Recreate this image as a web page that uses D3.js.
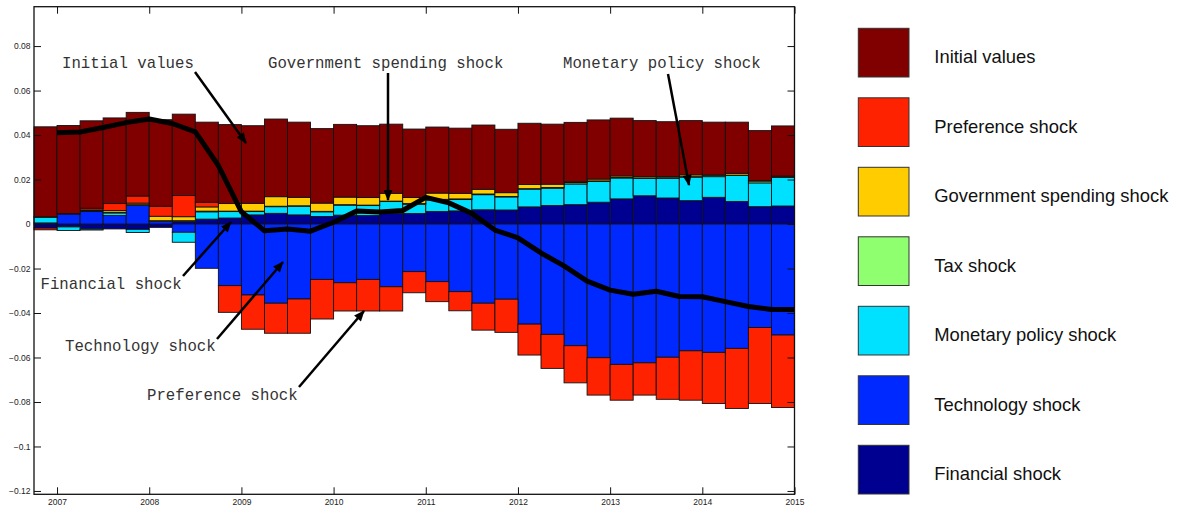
<!DOCTYPE html>
<html>
<head>
<meta charset="utf-8">
<script src="https://cdn.jsdelivr.net/npm/d3@7"></script>
<style>
  body { margin: 0; background: #fff; }
  svg { display: block; }
  .tick text { font-family: "Liberation Sans", Arial, sans-serif; font-size: 8.5px; fill: #222; }
  .note { font-family: "Courier New", "Liberation Mono", monospace; font-size: 15.7px; fill: #333; }
  .leg { font-family: "Liberation Sans", Arial, sans-serif; font-size: 18.4px; fill: #111; }
</style>
</head>
<body>
<div id="chart-area"></div>
<script>
// quarterly bars, left edge of each bar
const dates = [2006.75, 2007, 2007.25, 2007.5, 2007.75, 2008, 2008.25, 2008.5, 2008.75,
  2009, 2009.25, 2009.5, 2009.75, 2010, 2010.25, 2010.5, 2010.75,
  2011, 2011.25, 2011.5, 2011.75, 2012, 2012.25, 2012.5, 2012.75,
  2013, 2013.25, 2013.5, 2013.75, 2014, 2014.25, 2014.5, 2014.75]

const initialValues = [0.0404, 0.0396, 0.0393, 0.0385, 0.0376, 0.0389, 0.0366, 0.0360, 0.0355,
  0.0349, 0.0349, 0.0338, 0.0335, 0.0327, 0.0323, 0.0311, 0.0308,
  0.0297, 0.0293, 0.0289, 0.0285, 0.0275, 0.0270, 0.0267, 0.0266,
  0.0260, 0.0252, 0.0247, 0.0244, 0.0237, 0.0230, 0.0225, 0.0225]
const preference = [-0.0008, 0.0002, 0.0008, 0.0031, 0.0032, 0.0045, 0.0095, 0.0021, -0.0120,
  -0.0154, -0.0135, -0.0154, -0.0178, -0.0127, -0.0142, -0.0109, -0.0095,
  -0.0090, -0.0086, -0.0121, -0.0149, -0.0139, -0.0153, -0.0167, -0.0168,
  -0.0161, -0.0145, -0.0189, -0.0222, -0.0230, -0.0270, -0.0342, -0.0326]
const govSpending = [0.0003, 0, 0.0004, 0.0008, 0.0007, 0.0020, 0.0018, 0.0019, 0.0034,
  0.0035, 0.0043, 0.0038, 0.0037, 0.0034, 0.0034, 0.0035, 0.0027,
  0.0028, 0.0025, 0.0021, 0.0017, 0.0019, 0.0015, 0.0004, 0.0008,
  0.0007, 0.0006, 0.0002, 0.0008, 0.0002, 0.0008, 0.0002, 0.0002]
const tax = [0, 0, 0.0003, 0.0003, 0.0003, 0.0003, 0.0003, 0.0003, 0.0002,
  0.0002, 0.0002, 0.0002, 0.0002, 0.0002, 0.0002, 0.0002, 0.0003,
  0.0003, 0.0003, 0.0003, 0.0002, 0.0002, 0.0003, 0.0006, 0.0003,
  0.0002, 0.0002, 0.0006, 0.0002, 0.0006, 0.0002, 0.0008, 0.0005]
const monetary = [0.0025, -0.0016, -0.0005, 0.0012, -0.0014, 0, -0.0045, 0.0033, 0.0029,
  0.0015, 0.0030, 0.0039, 0.0021, 0.0045, 0.0045, 0.0052, 0.0042,
  0.0052, 0.0051, 0.0068, 0.0059, 0.0080, 0.0078, 0.0093, 0.0093,
  0.0094, 0.0078, 0.0088, 0.0106, 0.0093, 0.0117, 0.0107, 0.0128]
const technology = [0.0005, 0.0045, 0.0056, 0.0038, 0.0084, 0.0012, -0.0037, -0.0199, -0.0277,
  -0.0319, -0.0356, -0.0337, -0.0249, -0.0264, -0.0249, -0.0282, -0.0214,
  -0.0259, -0.0304, -0.0356, -0.0338, -0.0450, -0.0496, -0.0547, -0.0601,
  -0.0631, -0.0624, -0.0599, -0.0570, -0.0577, -0.0559, -0.0465, -0.0499]
const financial = [-0.0018, -0.0013, -0.0022, -0.0022, -0.0024, -0.0015, 0.0012, 0.0022, 0.0027,
  0.0041, 0.0048, 0.0041, 0.0034, 0.0040, 0.0038, 0.0049, 0.0047,
  0.0056, 0.0059, 0.0064, 0.0063, 0.0077, 0.0083, 0.0087, 0.0098,
  0.0113, 0.0127, 0.0117, 0.0105, 0.0120, 0.0101, 0.0078, 0.0081]

// black line, one point per bar (drawn at the right edge of its bar)
const actual = [0.0410, 0.0414, 0.0434, 0.0456, 0.0472, 0.0452, 0.0414, 0.0263, 0.0055,
  -0.0030, -0.0022, -0.0032, 0.0008, 0.0059, 0.0054, 0.0061, 0.0120,
  0.0095, 0.0048, -0.0027, -0.0062, -0.0130, -0.0188, -0.0257, -0.0297,
  -0.0316, -0.0302, -0.0326, -0.0327, -0.0349, -0.0371, -0.0384, -0.0384]

const yTicks = [-0.12, -0.1, -0.08, -0.06, -0.04, -0.02, 0, 0.02, 0.04, 0.06, 0.08]
const xTicks = [2007, 2008, 2009, 2010, 2011, 2012, 2013, 2014, 2015]

// stacking order from zero outwards
const KEYS = ["Financial shock", "Technology shock", "Monetary policy shock", "Tax shock",
  "Government spending shock", "Preference shock", "Initial values"]
const COLORS = {
  "Initial values": "#800000",
  "Preference shock": "#ff2200",
  "Government spending shock": "#ffcc00",
  "Tax shock": "#8fff6f",
  "Monetary policy shock": "#00e0ff",
  "Technology shock": "#0029ff",
  "Financial shock": "#000090"
}
const LEGEND = ["Initial values", "Preference shock", "Government spending shock", "Tax shock",
  "Monetary policy shock", "Technology shock", "Financial shock"]

const table = dates.map((d, i) => ({
  date: d,
  "Initial values": initialValues[i],
  "Preference shock": preference[i],
  "Government spending shock": govSpending[i],
  "Tax shock": tax[i],
  "Monetary policy shock": monetary[i],
  "Technology shock": technology[i],
  "Financial shock": financial[i]
}))

const MARGIN = { LEFT: 34, TOP: 6.7 }
const WIDTH = 794.5 - 34
const HEIGHT = 494.3 - 6.7

const svg = d3.select("#chart-area").append("svg")
  .attr("width", 1183)
  .attr("height", 510)

const g = svg.append("g")
  .attr("transform", `translate(${MARGIN.LEFT}, ${MARGIN.TOP})`)

const x = d3.scaleLinear().domain([2006.75, 2015]).range([0, WIDTH])
const y = d3.scaleLinear().domain([-0.1215, 0.0977]).range([HEIGHT, 0])

const series = d3.stack().keys(KEYS).offset(d3.stackOffsetDiverging)(table)

g.selectAll("g.layer").data(series).enter()
  .append("g")
  .attr("class", "layer")
  .attr("fill", s => COLORS[s.key])
  .selectAll("rect")
  .data(s => s.filter(d => d[1] !== d[0]))
  .enter().append("rect")
  .attr("x", d => x(d.data.date))
  .attr("width", d => x(d.data.date + 0.25) - x(d.data.date))
  .attr("y", d => y(Math.max(d[0], d[1])))
  .attr("height", d => Math.abs(y(d[0]) - y(d[1])))
  .attr("stroke", "#111")
  .attr("stroke-width", 0.9)

const line = d3.line()
  .x((d, i) => x(dates[i] + 0.25))
  .y(d => y(d))

g.append("path")
  .datum(actual)
  .attr("d", line)
  .attr("fill", "none")
  .attr("stroke", "#000")
  .attr("stroke-width", 5)
  .attr("stroke-linejoin", "round")

// axes, MATLAB style: ticks inside on all four sides
const fmt = v => v === 0 ? "0" : (v < 0 ? "\u2212" : "") + d3.format("")(+Math.abs(v).toFixed(2))

g.append("g")
  .call(d3.axisLeft(y).tickValues(yTicks).tickSizeInner(-7).tickSizeOuter(0).tickPadding(3.5).tickFormat(fmt))
g.append("g")
  .attr("transform", `translate(${WIDTH},0)`)
  .call(d3.axisRight(y).tickValues(yTicks).tickSizeInner(-7).tickSizeOuter(0).tickFormat(""))
g.append("g")
  .attr("transform", `translate(0,${HEIGHT})`)
  .call(d3.axisBottom(x).tickValues(xTicks).tickSizeInner(-7).tickSizeOuter(0).tickPadding(5).tickFormat(d3.format("d")))
g.append("g")
  .call(d3.axisTop(x).tickValues(xTicks).tickSizeInner(-7).tickSizeOuter(0).tickFormat(""))

g.selectAll(".domain").remove()
g.selectAll(".tick line").attr("stroke", "#111").attr("stroke-width", 1)

g.append("rect")
  .attr("width", WIDTH)
  .attr("height", HEIGHT)
  .attr("fill", "none")
  .attr("stroke", "#111")
  .attr("stroke-width", 1.3)

// annotations
svg.append("defs").append("marker")
  .attr("id", "head")
  .attr("viewBox", "0 0 12 10")
  .attr("refX", 11).attr("refY", 5)
  .attr("markerWidth", 12).attr("markerHeight", 9)
  .attr("markerUnits", "userSpaceOnUse")
  .attr("orient", "auto")
  .append("path")
  .attr("d", "M0,0 L12,5 L0,10 Z")
  .attr("fill", "#000")

const notes = [
  { text: "Initial values", tx: 62, ty: 67.5, x1: 195, y1: 72, x2: 246, y2: 143 },
  { text: "Government spending shock", tx: 268, ty: 67.5, x1: 388, y1: 73, x2: 388, y2: 200 },
  { text: "Monetary policy shock", tx: 563, ty: 67.5, x1: 668, y1: 74, x2: 689, y2: 185 },
  { text: "Financial shock", tx: 40.5, ty: 288.5, x1: 183, y1: 276, x2: 231, y2: 222 },
  { text: "Technology shock", tx: 65, ty: 350.5, x1: 217, y1: 339, x2: 283, y2: 262 },
  { text: "Preference shock", tx: 147, ty: 399.5, x1: 299, y1: 387, x2: 364, y2: 311 }
]

svg.selectAll("text.note").data(notes).enter()
  .append("text")
  .attr("class", "note")
  .attr("x", d => d.tx)
  .attr("y", d => d.ty)
  .text(d => d.text)

svg.selectAll("line.arrow").data(notes).enter()
  .append("line")
  .attr("class", "arrow")
  .attr("x1", d => d.x1).attr("y1", d => d.y1)
  .attr("x2", d => d.x2).attr("y2", d => d.y2)
  .attr("stroke", "#000")
  .attr("stroke-width", 2.5)
  .attr("marker-end", "url(#head)")

// legend
const legend = svg.append("g").attr("transform", "translate(858.3, 28.3)")
const rows = legend.selectAll("g").data(LEGEND).enter()
  .append("g")
  .attr("transform", (d, i) => `translate(0, ${i * 69.5})`)

rows.append("rect")
  .attr("width", 50.7)
  .attr("height", 48.7)
  .attr("fill", d => COLORS[d])
  .attr("stroke", "#333")
  .attr("stroke-width", 1)

rows.append("text")
  .attr("class", "leg")
  .attr("x", 76)
  .attr("y", 35)
  .text(d => d)
</script>
</body>
</html>
